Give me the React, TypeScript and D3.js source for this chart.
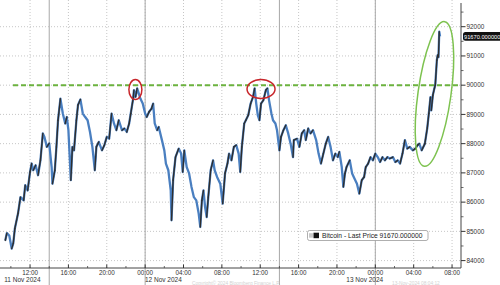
import React from "react";
import * as d3 from "d3";

// ---- data ----
const START = Date.UTC(2024, 10, 11, 12, 0); // 11 Nov 2024 12:00
const minutes = [
  -155, -145, -130, -115, -105, -95, -75, -60, -40, -30, -15, 0, 10, 20, 35, 50, 65, 80, 90, 105,
  120, 135, 140, 155, 165, 175, 190, 205, 220, 230, 240, 255, 265, 275, 290, 300, 315, 330, 345, 360,
  375, 390, 405, 415, 430, 450, 465, 480, 495, 510, 525, 540, 555, 575, 590, 605, 620, 630, 645, 650,
  660, 670, 680, 690, 705, 720, 730, 745, 760, 770, 780, 795, 805, 825, 840, 850, 865, 880, 885, 895,
  910, 930, 945, 955, 965, 980, 995, 1010, 1025, 1040, 1055, 1065, 1075, 1085, 1095, 1105, 1115, 1130, 1145, 1155,
  1170, 1190, 1205, 1220, 1235, 1245, 1260, 1275, 1290, 1305, 1315, 1325, 1340, 1350, 1365, 1380, 1395, 1405, 1415, 1425,
  1435, 1445, 1460, 1475, 1485, 1495, 1510, 1520, 1535, 1545, 1560, 1570, 1585, 1600, 1615, 1630, 1645, 1650, 1670, 1685,
  1700, 1715, 1725, 1740, 1755, 1770, 1790, 1805, 1820, 1835, 1850, 1865, 1880, 1895, 1910, 1925, 1935, 1950, 1960, 1970,
  1980, 2000, 2015, 2025, 2045, 2060, 2075, 2090, 2100, 2115, 2130, 2145, 2160, 2175, 2190, 2205, 2220, 2235, 2250, 2270,
  2285, 2300, 2315, 2330, 2345, 2360, 2375, 2395, 2410, 2425, 2435, 2450, 2470, 2485, 2495, 2505, 2510, 2520, 2530, 2535,
  2545, 2550, 2555, 2560, 2565,
];
const prices = [
  84690, 84940, 84860, 84410, 84590, 85100, 85620, 86170, 86060, 86580, 86400, 87030, 87320, 87090, 87260, 86920, 87430, 88350, 88230, 87890,
  88010, 87200, 86630, 87090, 87890, 88800, 89540, 89030, 88690, 88910, 88460, 86750, 87890, 87770, 88800, 89320, 89510, 89030, 88910, 88800,
  88400, 87890, 87090, 87890, 88060, 87770, 87950, 88230, 88170, 89030, 88690, 88460, 88800, 88460, 88520, 88400, 88690, 89030, 89540, 89830,
  89600, 89890, 89720, 89540, 89370, 89030, 88910, 89090, 89200, 89370, 88690, 88460, 88570, 88120, 87770, 87320, 87090, 86400, 85380, 86750,
  87540, 87830, 87660, 87030, 87770, 87200, 86980, 86520, 86170, 86060, 85610, 85150, 86060, 86400, 85830, 85490, 86170, 87090, 87430, 87090,
  86860, 86630, 85950, 86990, 87320, 87660, 87430, 87890, 87950, 87660, 87030, 87890, 88690, 88800, 88970, 89370, 89600, 89890, 89370, 88970,
  88800, 89370, 89490, 89830, 89890, 89490, 89030, 88800, 88690, 88460, 87770, 88230, 88460, 88630, 88350, 88000, 87540, 88120, 88170, 87890,
  88350, 88460, 88120, 88520, 88350, 88460, 88120, 87660, 87320, 87660, 88000, 88230, 87890, 87430, 87660, 87540, 87720, 87200, 86520, 86980,
  87200, 87430, 86980, 86860, 86630, 86290, 86750, 86860, 87200, 87320, 87540, 87430, 87660, 87540, 87370, 87540, 87430, 87540, 87490, 87540,
  87370, 87430, 87320, 87660, 88120, 87830, 87890, 87770, 87830, 87950, 88000, 87770, 88000, 88530, 89040, 89590, 89140, 89660, 89900, 90000,
  90860, 91030, 90960, 91830, 91670,
];
const yTicks = [84000, 85000, 86000, 87000, 88000, 89000, 90000, 91000, 92000];
const xTickHours = [0, 4, 8, 12, 16, 20, 24, 28, 32, 36, 40, 44];
const xTickLabels = ["12:00", "16:00", "20:00", "00:00", "04:00", "08:00", "12:00", "16:00", "20:00", "00:00", "04:00", "08:00"];
const sessionHours = [2, 12, 26, 36];
const dateLabels = ["11 Nov 2024", "12 Nov 2024", "13 Nov 2024"];
const dateLabelHours = [-0.8, 13.9, 34.9];
const resistance = 90000;
const lastPrice = 91670;
const legendText = "Bitcoin - Last Price 91670.000000";
const footerLeft = "Copyright© 2024 Bloomberg Finance L.P.";
const footerRight = "13-Nov-2024 08:04:12";

const W = 500;
const H = 285;
const AXIS_X = 461;
const AXIS_Y = 268;
const FONT = "'Liberation Sans', Arial, sans-serif";

const hourDate = (h: number) => new Date(START + h * 3600000);

export default function App() {
  const x = d3
    .scaleUtc()
    .domain([hourDate(-188 / 60), hourDate(2696 / 60)])
    .range([0, AXIS_X]);
  const y = d3.scaleLinear().domain([84000, 92000]).range([260.6, 26.7]);

  const pts = minutes.map((m, i) => ({ t: hourDate(m / 60), p: prices[i] }));
  const line = d3
    .line<{ t: Date; p: number }>()
    .x((d) => x(d.t))
    .y((d) => y(d.p));
  const fullPath = line(pts) || "";
  const ups: string[] = [];
  for (let i = 1; i < pts.length; i++) {
    if (pts[i].p > pts[i - 1].p) ups.push(line([pts[i - 1], pts[i]]) || "");
  }

  const minorY: number[] = d3.range(84000, 92501, 500).filter((v) => v % 1000 !== 0);
  const minorX: number[] = d3.range(-2, 46, 2).filter((h) => h % 4 !== 0);

  return (
    <svg
      width={W}
      height={H}
      style={{ position: "absolute", left: 0, top: 0, background: "#fff" }}
      fontFamily={FONT}
    >
      <rect x={0} y={0} width={W} height={H} fill="#fff" />
      {/* horizontal grid */}
      {yTicks.map((v) => (
        <line key={"hg" + v} x1={0} x2={AXIS_X} y1={y(v)} y2={y(v)} stroke="#b8b8b8" strokeWidth={0.8} strokeDasharray="1,2" />
      ))}
      {/* vertical grid */}
      {xTickHours.map((h) => (
        <line key={"vg" + h} x1={x(hourDate(h))} x2={x(hourDate(h))} y1={0} y2={AXIS_Y} stroke="#b8b8b8" strokeWidth={0.8} strokeDasharray="1,2" />
      ))}
      {/* session separators */}
      {sessionHours.map((h) => (
        <line key={"sp" + h} x1={x(hourDate(h))} x2={x(hourDate(h))} y1={0} y2={h % 24 === 0 ? 276 : H} stroke="#a8a8a8" strokeWidth={1} />
      ))}
      {/* resistance line */}
      <line x1={13} x2={AXIS_X} y1={y(resistance)} y2={y(resistance)} stroke="#6cb33f" strokeWidth={2} strokeDasharray="5,3" />
      {/* price series */}
      <path d={fullPath} fill="none" stroke="#4a7fc0" strokeWidth={2.3} strokeLinejoin="round" />
      {ups.map((d, i) => (
        <path key={"u" + i} d={d} fill="none" stroke="#2e2e2e" strokeWidth={1.4} strokeLinecap="round" />
      ))}
      {/* annotations */}
      <ellipse cx={x(hourDate(650 / 60 + 0.15))} cy={y(89850)} rx={6.5} ry={10} fill="none" stroke="#c8262b" strokeWidth={1.5} />
      <ellipse cx={x(hourDate(1445 / 60))} cy={y(89870)} rx={14} ry={9.5} fill="none" stroke="#c8262b" strokeWidth={1.5} />
      <ellipse
        cx={x(hourDate(2530 / 60))}
        cy={y(89700)}
        rx={16.5}
        ry={73}
        fill="none"
        stroke="#7dc24f"
        strokeWidth={1.5}
        transform={`rotate(8 ${x(hourDate(2530 / 60))} ${y(89700)})`}
      />
      {/* right axis */}
      <line x1={AXIS_X} x2={AXIS_X} y1={3} y2={AXIS_Y} stroke="#444" strokeWidth={1} />
      {minorY.map((v) => (
        <line key={"my" + v} x1={AXIS_X} x2={AXIS_X + 2.5} y1={y(v)} y2={y(v)} stroke="#444" strokeWidth={0.8} />
      ))}
      {yTicks.map((v) => (
        <g key={"yt" + v}>
          <line x1={AXIS_X} x2={AXIS_X + 4.5} y1={y(v)} y2={y(v)} stroke="#333" strokeWidth={1} />
          <text x={AXIS_X + 5.5} y={y(v) + 2.3} fontSize={6.4} fill="#333">
            {v}
          </text>
        </g>
      ))}
      {/* last price tag */}
      <rect x={AXIS_X + 2} y={y(lastPrice) - 4.3} width={50} height={8.6} rx={2.5} fill="#111" />
      <text x={AXIS_X + 3} y={y(lastPrice) + 2.2} fontSize={5.7} fill="#fff">
        {lastPrice.toFixed(6)}
      </text>
      {/* bottom axis */}
      <line x1={0} x2={AXIS_X} y1={AXIS_Y} y2={AXIS_Y} stroke="#444" strokeWidth={1} />
      {minorX.map((h) => (
        <line key={"mx" + h} x1={x(hourDate(h))} x2={x(hourDate(h))} y1={AXIS_Y} y2={AXIS_Y - 2} stroke="#444" strokeWidth={0.8} />
      ))}
      {xTickHours.map((h, i) => (
        <g key={"xt" + h}>
          <line x1={x(hourDate(h))} x2={x(hourDate(h))} y1={AXIS_Y} y2={AXIS_Y - 3.5} stroke="#333" strokeWidth={1} />
          <text x={x(hourDate(h))} y={274.8} fontSize={6.3} fill="#333" textAnchor="middle">
            {xTickLabels[i]}
          </text>
        </g>
      ))}
      {dateLabels.map((s, i) => (
        <text key={s} x={x(hourDate(dateLabelHours[i]))} y={281.6} fontSize={6.5} fill="#333" textAnchor="middle">
          {s}
        </text>
      ))}
      <text x={192} y={284.6} fontSize={4.8} fill="#d2d2d2">
        {footerLeft}
      </text>
      <text x={392} y={284.6} fontSize={4.8} fill="#d2d2d2">
        {footerRight}
      </text>
      {/* legend */}
      <rect x={307.5} y={230.5} width={120.5} height={10} rx={2} fill="#fff" stroke="#9a9a9a" strokeWidth={0.8} />
      <rect x={309} y={233.2} width={4} height={4.5} fill="#c8c8c8" />
      <rect x={313.5} y={232.7} width={5.5} height={5.5} fill="#111" />
      <text x={322} y={237.8} fontSize={6.7} fill="#222">
        {legendText}
      </text>
    </svg>
  );
}
